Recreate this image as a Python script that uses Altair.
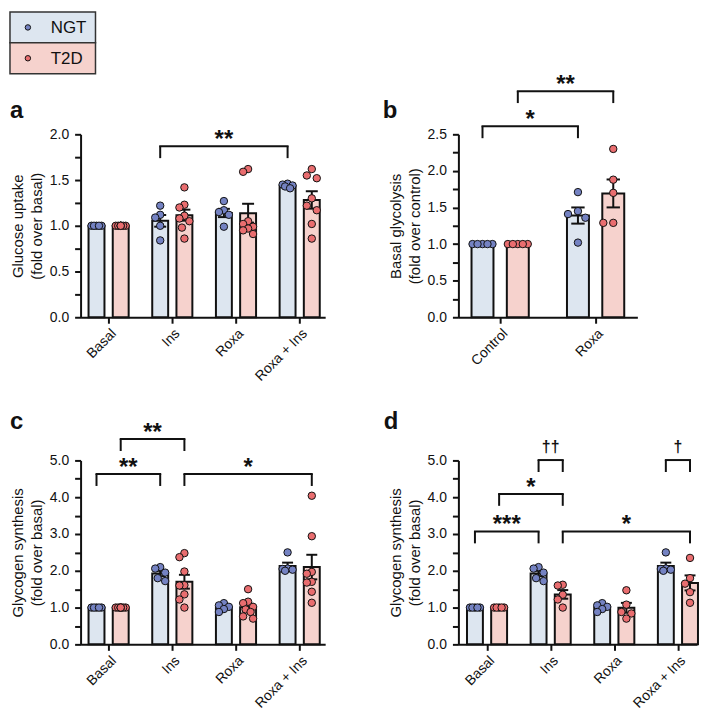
import json
import numpy as np
import pandas as pd
import altair as alt

GROUPS = ["NGT", "T2D"]
CATS_4 = ["Basal", "Ins", "Roxa", "Roxa + Ins"]
CATS_2 = ["Control", "Roxa"]

# ---- Panel a: glucose uptake (fold over basal), one list per category
a_NGT = [
    [1.00, 1.00, 1.00, 1.00, 1.00],
    [1.22, 1.12, 1.09, 1.00, 0.84],
    [1.27, 1.17, 1.15, 1.12, 0.99],
    [1.46, 1.45, 1.44, 1.43, 1.41],
]
a_T2D = [
    [1.00, 1.00, 1.00, 1.00, 1.00, 1.00, 1.00, 1.00],
    [1.42, 1.23, 1.20, 1.11, 1.08, 1.05, 0.98, 0.86],
    [1.62, 1.59, 1.05, 1.02, 0.99, 0.97, 0.95, 0.91],
    [1.62, 1.55, 1.52, 1.30, 1.22, 1.17, 1.02, 0.86],
]
a_brackets = [("Ins", "NGT", "Roxa + Ins", "NGT", 1.87, "**")]

# ---- Panel b: basal glycolysis (fold over control)
b_NGT = [
    [1.00, 1.00, 1.00, 1.00, 1.00],
    [1.71, 1.45, 1.41, 1.36, 1.02],
]
b_T2D = [
    [1.00, 1.00, 1.00, 1.00, 1.00],
    [2.30, 1.88, 1.70, 1.29, 1.29],
]
b_brackets = [
    ("Control", "NGT", "Roxa", "NGT", 2.61, "*"),
    ("Control", "T2D", "Roxa", "T2D", 3.09, "**"),
]

# ---- Panel c: glycogen synthesis (fold over basal)
c_NGT = [
    [1.00, 1.00, 1.00, 1.00, 1.00],
    [2.10, 2.06, 1.95, 1.80, 1.72],
    [1.12, 1.06, 1.02, 0.96, 0.88],
    [2.50, 2.06, 2.05, 2.03, 2.00],
]
c_T2D = [
    [1.00, 1.00, 1.00, 1.00, 1.00, 1.00, 1.00, 1.00],
    [2.48, 2.37, 1.98, 1.61, 1.60, 1.36, 1.22, 1.00],
    [1.50, 1.16, 1.12, 1.02, 0.95, 0.88, 0.76, 0.70],
    [4.04, 2.94, 1.97, 1.92, 1.70, 1.68, 1.43, 1.13],
]
c_brackets = [
    ("Basal", "T2D", "Ins", "T2D", 5.58, "**"),
    ("Basal", "NGT", "Ins", "NGT", 4.63, "**"),
    ("Ins", "T2D", "Roxa + Ins", "T2D", 4.63, "*"),
]

# ---- Panel d: glycogen synthesis (fold over basal)
d_NGT = [
    [1.00, 1.00, 1.00, 1.00, 1.00],
    [2.10, 2.06, 1.95, 1.80, 1.72],
    [1.12, 1.06, 1.02, 0.96, 0.88],
    [2.50, 2.06, 2.05, 2.03, 2.00],
]
d_T2D = [
    [1.00, 1.00, 1.00, 1.00, 1.00],
    [1.62, 1.60, 1.35, 1.22, 1.00],
    [1.47, 1.08, 0.88, 0.84, 0.70],
    [2.35, 1.80, 1.65, 1.42, 1.13],
]
d_brackets = [
    ("Ins", "NGT", "Ins", "T2D", 5.01, "††"),
    ("Roxa + Ins", "NGT", "Roxa + Ins", "T2D", 5.01, "†"),
    ("Basal", "T2D", "Ins", "T2D", 4.09, "*"),
    ("Basal", "NGT", "Ins", "NGT", 3.07, "***"),
    ("Ins", "T2D", "Roxa + Ins", "T2D", 3.07, "*"),
]

BAR_FILL = {"NGT": "#dde6f0", "T2D": "#f6d2cd"}
DOT_FILL = {"NGT": "#7482c2", "T2D": "#e96d6f"}
FONT = "Liberation Sans"
INK = "#111111"


def swarm(vals, ppy, cap_px, dia=9.0, step=2.5):
    """Horizontal offsets (px) so that dots do not overlap (beeswarm)."""
    cands = [0.0]
    k = 1
    while k * step <= cap_px + 1e-9:
        cands += [-k * step, k * step]
        k += 1
    placed, out = [], []
    for v in vals:
        yp = v * ppy
        best, bestd = 0.0, -1.0
        for c in cands:
            d = min((np.hypot(c - px, yp - py) for px, py in placed), default=1e9)
            if d >= dia:
                best = c
                break
            if d > bestd:
                bestd, best = d, c
        placed.append((best, yp))
        out.append(best)
    return out


def panel(letter, letter_xy, cats, ngt, t2d, brackets, ydom, tstep, lstep,
          ytitle, W, H, xdom, goff, bw, capw, legend=False):
    ppx = W / (xdom[1] - xdom[0])
    ppy = H / (ydom[1] - ydom[0])
    offs = {"NGT": -goff, "T2D": goff}
    rows = []
    for g, series in zip(GROUPS, [ngt, t2d]):
        for ci, (cat, vals) in enumerate(zip(cats, series)):
            xc = ci + offs[g]
            jit = swarm(vals, ppy, bw * ppx / 2 - 1)
            for v, o in zip(vals, jit):
                rows.append(dict(cat=cat, group=g, value=v, xc=xc, xp=xc + o / ppx))
    df = pd.DataFrame(rows)

    brows = []
    for c1, g1, c2, g2, lev, lab in brackets:
        x1 = cats.index(c1) + offs[g1]
        x2 = cats.index(c2) + offs[g2]
        kind = "dagger" if "†" in lab else "star"
        brows.append(dict(x1=x1, x2=x2, xm=(x1 + x2) / 2, lev=lev,
                          leg=lev - 12 / ppy,
                          ty=lev + (6 if kind == "star" else 13) / ppy,
                          label=lab, kind=kind))
    bdf = pd.DataFrame(brows)

    nt = int(round((ydom[1] - ydom[0]) / tstep))
    yticks = [round(ydom[0] + i * tstep, 4) for i in range(nt + 1)]
    xscale = alt.Scale(domain=xdom, nice=False, zero=False)
    yscale = alt.Scale(domain=ydom, nice=False, zero=False)
    xaxis = alt.Axis(values=list(range(len(cats))),
                     labelExpr=json.dumps(cats) + "[datum.value]",
                     labelAngle=-45, title=None, grid=False, labelFlush=False,
                     labelOverlap=False, labelPadding=3)
    yaxis = alt.Axis(values=yticks,
                     labelExpr=(f"abs(datum.value / {lstep} - round(datum.value / {lstep})) < 1e-6"
                                " ? format(datum.value, '.1f') : ''"),
                     title=ytitle, grid=False, labelFlush=False, labelOverlap=False,
                     labelPadding=6, titlePadding=5)

    def X(f):
        return alt.X(f, type="quantitative", scale=xscale, axis=xaxis)

    def Y(f):
        return alt.Y(f, type="quantitative", scale=yscale, axis=yaxis)

    base = alt.Chart(df)
    bars = base.transform_aggregate(
        mean="mean(value)", groupby=["cat", "group", "xc"]
    ).transform_calculate(
        x1=f"datum.xc - {bw / 2}", x2=f"datum.xc + {bw / 2}"
    ).mark_rect(stroke=INK, strokeWidth=2).encode(
        x=X("x1"), x2="x2", y=Y("mean"), y2=alt.datum(0),
        fill=alt.Fill("group:N", scale=alt.Scale(domain=GROUPS, range=[BAR_FILL[g] for g in GROUPS]),
                      legend=None),
    )
    err = base.transform_aggregate(
        mean="mean(value)", sem="stderr(value)", groupby=["cat", "group", "xc"]
    ).transform_calculate(
        lo="datum.mean - datum.sem", hi="datum.mean + datum.sem",
        c1=f"datum.xc - {capw}", c2=f"datum.xc + {capw}",
    )
    vline = err.mark_rule(color=INK, strokeWidth=2).encode(x=X("xc"), y=Y("lo"), y2="hi")
    cap_hi = err.mark_rule(color=INK, strokeWidth=2).encode(x=X("c1"), x2="c2", y=Y("hi"))
    cap_lo = err.mark_rule(color=INK, strokeWidth=2).encode(x=X("c1"), x2="c2", y=Y("lo"))
    dots = base.mark_point(shape="circle", filled=True, size=56, stroke=INK,
                           strokeWidth=1, opacity=1).encode(
        x=X("xp"), y=Y("value"),
        fill=alt.Fill("group:N", scale=alt.Scale(domain=GROUPS, range=[DOT_FILL[g] for g in GROUPS]),
                      legend=None),
    )

    bch = alt.Chart(bdf)
    hrule = bch.mark_rule(color=INK, strokeWidth=2, strokeCap="square").encode(
        x=X("x1"), x2="x2", y=Y("lev"))
    leg1 = bch.mark_rule(color=INK, strokeWidth=2).encode(x=X("x1"), y=Y("leg"), y2="lev")
    leg2 = bch.mark_rule(color=INK, strokeWidth=2).encode(x=X("x2"), y=Y("leg"), y2="lev")
    stars = bch.transform_filter(alt.datum.kind == "star").mark_text(
        fontSize=24, fontWeight="bold", font=FONT, baseline="middle", color=INK).encode(
        x=X("xm"), y=Y("ty"), text="label:N")
    dags = bch.transform_filter(alt.datum.kind == "dagger").mark_text(
        fontSize=16, fontWeight="bold", font=FONT, baseline="middle", color=INK).encode(
        x=X("xm"), y=Y("ty"), text="label:N")

    let = alt.Chart(pd.DataFrame({"letter": [letter]})).mark_text(
        fontSize=24, fontWeight="bold", font=FONT, align="left", baseline="alphabetic",
        color=INK).encode(x=alt.value(letter_xy[0]), y=alt.value(letter_xy[1]), text="letter:N")

    layers = [bars, vline, cap_hi, cap_lo, dots, hrule, leg1, leg2, stars, dags, let]

    if legend:
        ldf = pd.DataFrame({"group": GROUPS})
        for i, g in enumerate(GROUPS):
            top = -123 + 31 * i
            lc = alt.Chart(ldf).transform_filter(alt.datum.group == g)
            layers.append(lc.mark_rect(fill=BAR_FILL[g], stroke="#333333", strokeWidth=1.5).encode(
                x=alt.value(-71), x2=alt.value(15), y=alt.value(top), y2=alt.value(top + 31)))
            layers.append(lc.mark_point(shape="circle", filled=True, fill=DOT_FILL[g], stroke=INK,
                                        strokeWidth=1, size=30, opacity=1).encode(
                x=alt.value(-53), y=alt.value(top + 15.5)))
            layers.append(lc.mark_text(fontSize=17, font=FONT, align="left", baseline="middle",
                                       color=INK).encode(
                x=alt.value(-30), y=alt.value(top + 16), text="group:N"))

    return alt.layer(*layers).resolve_scale(fill="independent").properties(width=W, height=H)


pa = panel("a", (-71, -16), CATS_4, a_NGT, a_T2D, a_brackets, [0, 2.0], 0.25, 0.5,
           ["Glucose uptake", "(fold over basal)"], 246, 184, [-0.44, 3.4], 0.19, 0.25, 0.094,
           legend=True)
pb = panel("b", (-76, -16), CATS_2, b_NGT, b_T2D, b_brackets, [0, 2.5], 0.25, 0.5,
           ["Basal glycolysis", "(fold over control)"], 180, 184, [-0.4375, 1.4375], 0.185, 0.23,
           0.07)
pc = panel("c", (-71, -32), CATS_4, c_NGT, c_T2D, c_brackets, [0, 5.0], 0.5, 1.0,
           ["Glycogen synthesis", "(fold over basal)"], 246, 185, [-0.44, 3.4], 0.19, 0.25, 0.086)
pd_ = panel("d", (-75, -32), CATS_4, d_NGT, d_T2D, d_brackets, [0, 5.0], 0.5, 1.0,
            ["Glycogen synthesis", "(fold over basal)"], 240, 185, [-0.45, 3.3], 0.19, 0.25, 0.086)

chart = alt.concat(
    pa, pb, pc, pd_, columns=2, spacing={"row": 144, "column": 134}, bounds="flush"
).properties(
    padding=0
).configure_view(stroke="transparent").configure_axis(
    labelFont=FONT, titleFont=FONT, labelFontSize=14, titleFontSize=15,
    titleFontWeight="normal", labelColor=INK, titleColor=INK,
    domainColor=INK, domainWidth=2, tickColor=INK, tickWidth=2, tickSize=6,
    titleLineHeight=19,
)

chart.save("out.html", embed_options={"renderer": "svg", "actions": False})
